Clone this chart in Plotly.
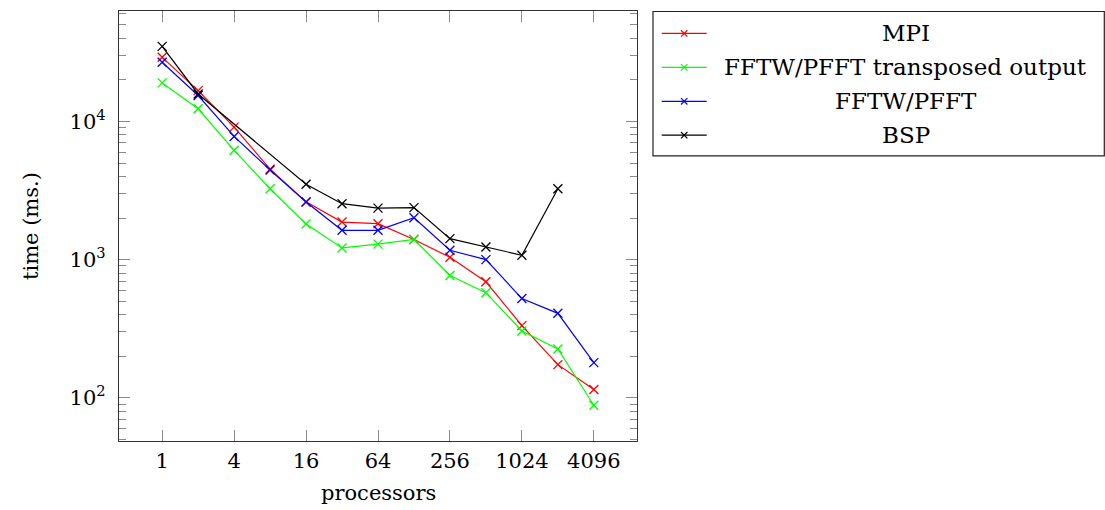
import plotly.graph_objects as go

# ---- data ----
processors = [1, 2, 4, 8, 16, 32, 64, 128, 256, 512, 1024, 2048, 4096]
mpi = [29100, 16700, 9100, 4520, 2620, 1870, 1820, 1400, 1040, 692, 333, 174, 115]
fftw_transposed = [19000, 12350, 6180, 3260, 1810, 1216, 1295, 1400, 769, 577, 305, 226, 88.5]
fftw = [26800, 15400, 7790, 4450, 2610, 1630, 1630, 2010, 1170, 1000, 523, 409, 180]
bsp_processors = [1, 2, 16, 32, 64, 128, 256, 512, 1024, 2048]
bsp = [34900, 15800, 3515, 2540, 2360, 2380, 1420, 1235, 1076, 3260]

series_names = ["MPI", "FFTW/PFFT transposed output", "FFTW/PFFT", "BSP"]
series_colors = ["#ff0000", "#00ff00", "#0000ff", "#000000"]

x_tick_vals = [1, 4, 16, 64, 256, 1024, 4096]
x_tick_text = ["1", "4", "16", "64", "256", "1024", "4096"]
y_tick_vals = [100, 1000, 10000]
y_tick_text = ["10<sup>2</sup>", "10<sup>3</sup>", "10<sup>4</sup>"]

FONT = "DejaVu Serif, Liberation Serif, serif"
FS = 21
FS_LEG = 23

fig = go.Figure()
xs = [processors, processors, processors, bsp_processors]
ys = [mpi, fftw_transposed, fftw, bsp]
for name, color, x, y in zip(series_names, series_colors, xs, ys):
    fig.add_trace(go.Scatter(
        x=x, y=y, mode="lines+markers", name=name,
        line=dict(color=color, width=1.2),
        marker=dict(symbol="x-thin", size=9, line=dict(color=color, width=1.3)),
        showlegend=False,
    ))

minor_y = [m * 10 ** e for e in (1, 2, 3, 4) for m in range(2, 10)]

L, R, T, B = 119, 637, 10.5, 441.5
W, H = 1105, 510

fig.update_layout(
    width=W, height=H,
    margin=dict(l=L, r=W - R, t=T, b=H - B, pad=0),
    paper_bgcolor="white", plot_bgcolor="white",
    font=dict(family=FONT, size=FS, color="black"),
    xaxis=dict(
        type="log", range=[-1.2 * 0.30103, 13.2 * 0.30103],
        tickmode="array", tickvals=x_tick_vals, ticktext=x_tick_text,
        ticks="inside", ticklen=11, tickcolor="#8a8a8a", tickwidth=1,
        showline=True, linecolor="#333333", linewidth=1.3, mirror="ticks",
        showgrid=False, zeroline=False, ticklabelstandoff=1,
        tickfont=dict(family=FONT, size=FS),
    ),
    yaxis=dict(
        type="log", range=[1.688, 4.799],
        tickmode="array", tickvals=y_tick_vals, ticktext=y_tick_text,
        ticks="inside", ticklen=11, tickcolor="#8a8a8a", tickwidth=1,
        showline=True, linecolor="#333333", linewidth=1.3, mirror="ticks",
        showgrid=False, zeroline=False, ticklabelstandoff=8,
        tickfont=dict(family=FONT, size=FS),
        minor=dict(tickmode="array", tickvals=minor_y, ticks="inside",
                   ticklen=7, tickcolor="#8a8a8a", tickwidth=1, showgrid=False),
    ),
)

# axis titles
fig.add_annotation(text="processors", xref="paper", yref="paper",
                   x=0.5, y=-(494 - B) / (B - T), yanchor="middle", xanchor="center",
                   showarrow=False, font=dict(family=FONT, size=FS))
fig.add_annotation(text="time (ms.)", xref="paper", yref="paper",
                   x=-(L - 31) / (R - L), y=0.5, xanchor="center", yanchor="middle",
                   textangle=-90, showarrow=False, font=dict(family=FONT, size=FS))

# custom legend (centered text, like pgfplots)
def px_x(px):
    return (px - L) / (R - L)

def px_y(py):
    return (B - py) / (B - T)

fig.add_shape(type="rect", xref="paper", yref="paper",
              x0=px_x(653), x1=px_x(1104.3), y0=px_y(155.7), y1=px_y(11),
              line=dict(color="#222222", width=1.2), fillcolor="white")
rows = [33, 67, 101, 135]
for name, color, ry in zip(series_names, series_colors, rows):
    fig.add_shape(type="line", xref="paper", yref="paper",
                  x0=px_x(661.7), x1=px_x(706.7), y0=px_y(ry), y1=px_y(ry),
                  line=dict(color=color, width=1.2))
    d = 3.2
    for sgn in (1, -1):
        fig.add_shape(type="line", xref="paper", yref="paper",
                      x0=px_x(684.2 - d), x1=px_x(684.2 + d),
                      y0=px_y(ry - sgn * d), y1=px_y(ry + sgn * d),
                      line=dict(color=color, width=1.2))
    fig.add_annotation(text=name, xref="paper", yref="paper",
                       x=px_x(905.5), y=px_y(ry), xanchor="center", yanchor="middle",
                       showarrow=False, font=dict(family=FONT, size=FS_LEG))

fig.write_html("out.html", config={"displayModeBar": False},
               post_script="document.body.style.margin='0';")
